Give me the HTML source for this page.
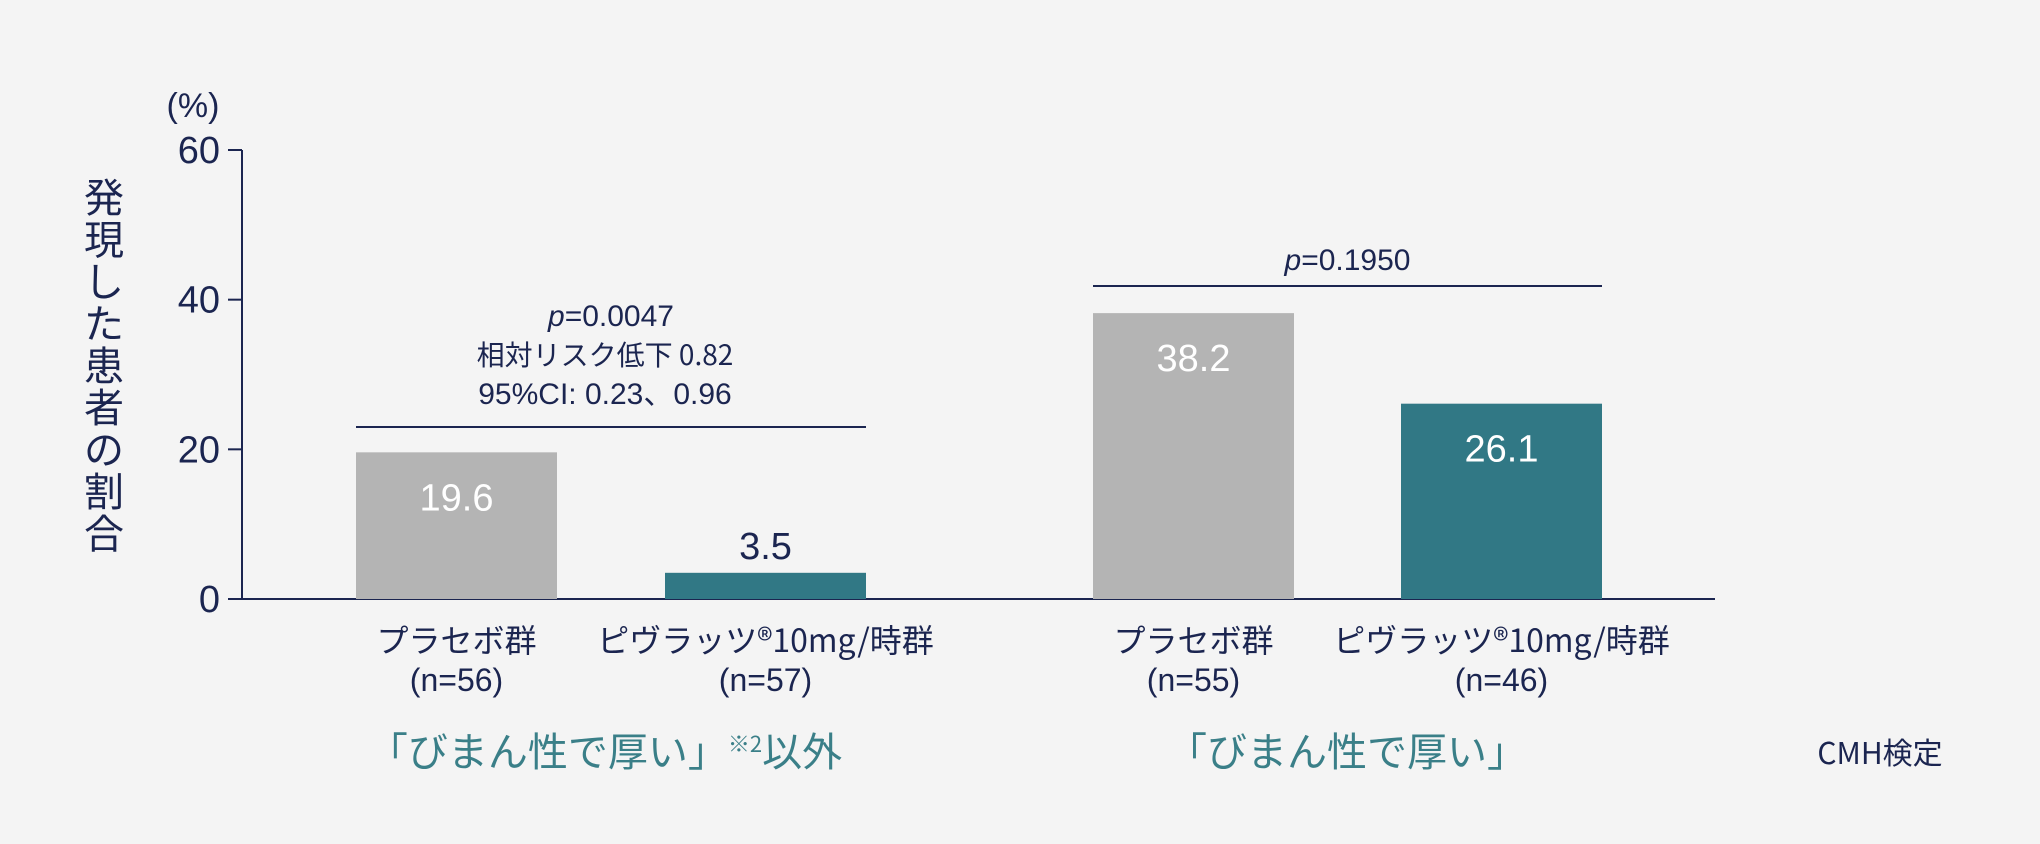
<!DOCTYPE html>
<html><head><meta charset="utf-8"><style>
html,body{margin:0;padding:0;background:#f4f4f4;}
svg{display:block;font-family:"Liberation Sans Narrow","Liberation Sans","Noto Sans CJK JP",sans-serif;}
</style></head><body>
<svg id="chart" width="2040" height="844" viewBox="0 0 2040 844">
<rect width="2040" height="844" fill="#f4f4f4"/>
<g id="g"></g>
</svg>
<script>
const categories=["プラセボ群","ピヴラッツ®10mg/時群","プラセボ群","ピヴラッツ®10mg/時群"];
const nLabels=["(n=56)","(n=57)","(n=55)","(n=46)"];
const values=[19.6,3.5,38.2,26.1];
const valueLabels=["19.6","3.5","38.2","26.1"];
const yTicks=[0,20,40,60];
const groupNames=["「びまん性で厚い」※2以外","「びまん性で厚い」"];
const pValues=["=0.0047","=0.1950"];

const NS="http://www.w3.org/2000/svg";
const g=document.getElementById('g');
const navy="#1b2550";
const X0=242,Y0=599,Y60=150;
function y(v){return Y0-(v/60)*(Y0-Y60);}
const barX=[356,665,1093,1401],barW=201;
function bx(i){return barX[i];}
function mk(tag,attrs,txt){const e=document.createElementNS(NS,tag);for(const k in attrs)e.setAttribute(k,attrs[k]);if(txt!==undefined)e.textContent=txt;g.appendChild(e);return e;}

// axes
let e=mk('line',{x1:X0,y1:Y60,x2:X0,y2:Y0,stroke:navy,'stroke-width':2});


e=mk('line',{x1:228,y1:Y0,x2:1715,y2:Y0,stroke:navy,'stroke-width':2});


yTicks.forEach(t=>{
  let l=mk('line',{x1:228,y1:y(t),x2:X0,y2:y(t),stroke:navy,'stroke-width':2});
  
  
  let tx=mk('text',{x:220,y:y(t)+13,'text-anchor':'end','font-size':38,fill:navy},String(t));
  
  
});
e=mk('text',{x:193,y:117,'text-anchor':'middle','font-size':34,fill:navy},'(%)');


// y title vertical
const title="発現した患者の割合";
[...title].forEach((c,i)=>{
  let t=mk('text',{x:104,y:212+i*42,'text-anchor':'middle','font-size':40,fill:navy,'font-family':'"Noto Sans CJK JP",sans-serif'},c);
  
  
});
// bars
values.forEach((v,i)=>{
  const teal=i%2===1;
  let r=mk('rect',{x:bx(i),y:y(v),width:barW,height:Y0-y(v),fill:teal?"#317885":"#b4b4b4"});
  
  
  const inside=(Y0-y(v))>80;
  let t=mk('text',{x:bx(i)+barW/2,y:inside?y(v)+58:y(v)-14,'text-anchor':'middle','font-size':38,fill:inside?"#fff":navy},valueLabels[i]);
  
  
  let c=mk('text',{x:bx(i)+barW/2,y:652,'text-anchor':'middle','font-size':32,fill:navy,'font-family':'"Noto Sans CJK JP",sans-serif'},categories[i]);
  
  
  let n=mk('text',{x:bx(i)+barW/2,y:691,'text-anchor':'middle','font-size':32,fill:navy},nLabels[i]);
  
  
});
// brackets
[[0,1,427],[2,3,286]].forEach((b,k)=>{
  let l=mk('line',{x1:bx(b[0]),y1:b[2],x2:bx(b[1])+barW,y2:b[2],stroke:navy,'stroke-width':2});
  
  
  const cx=(bx(b[0])+bx(b[1])+barW)/2;
  const py=k===0?326:270;
  let t=mk('text',{x:cx,y:py,'text-anchor':'middle','font-size':30,fill:navy});
  
  
  const ts=document.createElementNS(NS,'tspan');ts.setAttribute('font-style','italic');ts.textContent='p';t.appendChild(ts);
  t.appendChild(document.createTextNode(pValues[k]));
});
e=mk('text',{x:605,y:365,'text-anchor':'middle','font-size':28,fill:navy,'font-family':'"Noto Sans CJK JP",sans-serif'},'相対リスク低下 0.82');


e=mk('text',{x:605,y:404,'text-anchor':'middle','font-size':30,fill:navy},'95%CI: 0.23、0.96');


// group labels
e=mk('text',{x:605,y:766,'text-anchor':'middle','font-size':40,fill:"#3a7f88",'font-family':'"Noto Sans CJK JP",sans-serif'});


e.innerHTML='「びまん性で厚い」<tspan font-size="22" dy="-14">※2</tspan><tspan dy="14">以外</tspan>';
e=mk('text',{x:1347,y:766,'text-anchor':'middle','font-size':40,fill:"#3a7f88",'font-family':'"Noto Sans CJK JP",sans-serif'},groupNames[1]);


e=mk('text',{x:1880,y:764,'text-anchor':'middle','font-size':30,fill:navy,'font-family':'"Noto Sans CJK JP",sans-serif'},'CMH検定');


</script>
</body></html>
